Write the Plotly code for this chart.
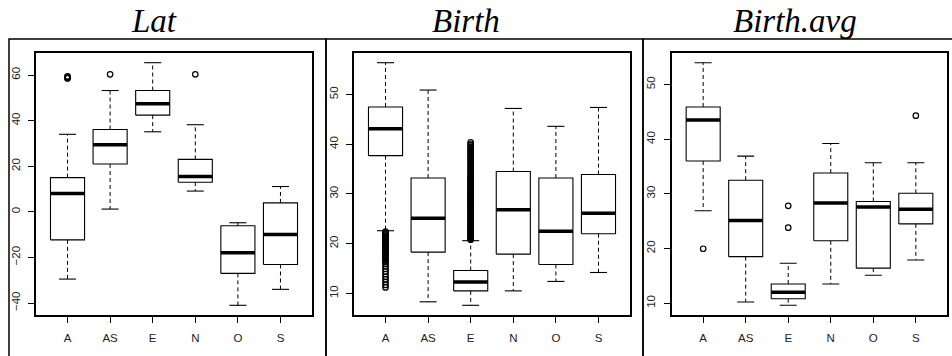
import plotly.graph_objects as go

categories = ["A", "AS", "E", "N", "O", "S"]

# Lat panel: five-number summaries per category
lat_low = [-29.5, 1.2, 35.1, 9.1, -41.0, -34.0]
lat_q1 = [-12.3, 21.0, 42.4, 13.0, -27.0, -23.1]
lat_med = [8.0, 29.4, 47.4, 15.5, -18.0, -9.9]
lat_q3 = [15.0, 36.1, 53.2, 23.0, -6.1, 3.9]
lat_high = [34.0, 53.2, 65.4, 38.2, -4.8, 11.1]
lat_out = [[58.5, 58.8, 59.1, 59.4], [60.3], [], [60.3], [], []]

# Birth panel
birth_low = [22.6, 8.3, 7.6, 10.5, 12.4, 14.2]
birth_q1 = [37.7, 18.3, 10.5, 17.9, 15.8, 22.0]
birth_med = [43.1, 25.1, 12.3, 26.8, 22.5, 26.1]
birth_q3 = [47.5, 33.2, 14.6, 34.5, 33.2, 33.9]
birth_high = [56.4, 50.9, 20.6, 47.2, 43.6, 47.4]
birth_out = [
    [11.2, 11.7, 12.3, 12.8, 13.3, 13.9, 14.4, 14.9, 15.4, 15.9, 16.3,
     16.6, 16.8, 17.0, 17.2, 17.4, 17.6, 17.8, 18.0, 18.2, 18.4, 18.6,
     18.8, 19.0, 19.2, 19.4, 19.6, 19.8, 20.0, 20.2, 20.4, 20.6, 20.8,
     21.0, 21.2, 21.4, 21.6, 21.8, 22.0, 22.2, 22.4],
    [],
    [20.8, 21.0, 21.2, 21.4, 21.6, 21.8, 22.0, 22.2, 22.4, 22.6, 22.8, 23.0,
     23.2, 23.4, 23.6, 23.8, 24.0, 24.2, 24.4, 24.6, 24.8, 25.0, 25.2, 25.4,
     25.6, 25.8, 26.0, 26.2, 26.4, 26.6, 26.8, 27.0, 27.2, 27.4, 27.6, 27.8,
     28.0, 28.2, 28.4, 28.6, 28.8, 29.0, 29.2, 29.4, 29.6, 29.8, 30.0, 30.2,
     30.4, 30.6, 30.8, 31.0, 31.2, 31.4, 31.6, 31.8, 32.0, 32.2, 32.4, 32.6,
     32.8, 33.0, 33.2, 33.4, 33.6, 33.8, 34.1, 34.4, 34.7, 35.0, 35.3, 35.6,
     35.9, 36.2, 36.5, 36.8, 37.1, 37.4, 37.7, 38.0, 38.3, 38.6, 38.9, 39.2,
     39.5, 39.8, 40.1, 40.4],
    [], [], [],
]

# Birth.avg panel
bavg_low = [26.9, 10.2, 9.6, 13.5, 15.1, 17.9]
bavg_q1 = [36.0, 18.5, 10.8, 21.4, 16.4, 24.5]
bavg_med = [43.5, 25.1, 12.0, 28.3, 27.6, 27.2]
bavg_q3 = [45.9, 32.5, 13.5, 33.8, 28.6, 30.1]
bavg_high = [54.0, 36.9, 17.3, 39.2, 35.7, 35.7]
bavg_out = [[19.95], [], [23.8, 27.8], [], [], [44.3]]

titles = ["Lat", "Birth", "Birth.avg"]
lat_ticks = [-40, -20, 0, 20, 40, 60]
birth_ticks = [10, 20, 30, 40, 50]
bavg_ticks = [10, 20, 30, 40, 50]

panels = [
    (lat_low, lat_q1, lat_med, lat_q3, lat_high, lat_out, lat_ticks),
    (birth_low, birth_q1, birth_med, birth_q3, birth_high, birth_out, birth_ticks),
    (bavg_low, bavg_q1, bavg_med, bavg_q3, bavg_high, bavg_out, bavg_ticks),
]

W, H = 952, 356
x_domains_px = [(36, 312), (354, 630), (671.7, 947.3)]
y_dom = [(H - 315) / H, (H - 53) / H]
frames_px = [(9, 326), (326, 643), (643, 960)]
title_cx = [154, 466, 795]
frame_top = 39

fig = go.Figure()
BW = 0.4    # half box width
SW = 0.2    # half staple width
n = len(categories)

for k, (lo, q1, med, q3, hi, outs, ticks) in enumerate(panels):
    xa = "x" if k == 0 else f"x{k+1}"
    ya = "y" if k == 0 else f"y{k+1}"
    pos = list(range(1, n + 1))

    wx, wy = [], []
    sx, sy = [], []
    bx, by = [], []
    mx, my = [], []
    ox, oy = [], []
    for i, p in enumerate(pos):
        wx += [p, p, None, p, p, None]
        wy += [q3[i], hi[i], None, q1[i], lo[i], None]
        sx += [p - SW, p + SW, None, p - SW, p + SW, None]
        sy += [hi[i], hi[i], None, lo[i], lo[i], None]
        bx += [p - BW, p + BW, p + BW, p - BW, p - BW, None]
        by += [q1[i], q1[i], q3[i], q3[i], q1[i], None]
        mx += [p - BW, p + BW, None]
        my += [med[i], med[i], None]
        for v in outs[i]:
            ox.append(p)
            oy.append(v)

    fig.add_trace(go.Scatter(x=wx, y=wy, mode="lines", xaxis=xa, yaxis=ya,
                             line=dict(color="black", width=1, dash="4px,3px"),
                             showlegend=False, hoverinfo="skip"))
    fig.add_trace(go.Scatter(x=sx, y=sy, mode="lines", xaxis=xa, yaxis=ya,
                             line=dict(color="black", width=1.1),
                             showlegend=False, hoverinfo="skip"))
    fig.add_trace(go.Scatter(x=bx, y=by, mode="lines", xaxis=xa, yaxis=ya,
                             line=dict(color="black", width=1.1),
                             showlegend=False, hoverinfo="skip"))
    fig.add_trace(go.Scatter(x=mx, y=my, mode="lines", xaxis=xa, yaxis=ya,
                             line=dict(color="black", width=3.5),
                             showlegend=False, hoverinfo="skip"))
    fig.add_trace(go.Scatter(x=ox, y=oy, mode="markers", xaxis=xa, yaxis=ya,
                             marker=dict(symbol="circle-open", size=5.5, color="black",
                                         line=dict(width=1.2, color="black")),
                             showlegend=False, hoverinfo="skip"))

    allv = lo + hi + [v for o in outs for v in o]
    vmin, vmax = min(allv), max(allv)
    pad = 0.04 * (vmax - vmin)
    xpad = 0.04 * n

    x0, x1 = x_domains_px[k]
    axis_common = dict(showline=True, mirror=True, linecolor="black", linewidth=1.5,
                       showgrid=False, zeroline=False, ticks="outside", ticklen=6,
                       tickcolor="black", tickwidth=1,
                       tickfont=dict(family="Liberation Sans, Arial", size=11.5, color="#222"))
    fig.layout[("xaxis" if k == 0 else f"xaxis{k+1}")] = dict(
        domain=[x0 / W, x1 / W], anchor=ya, range=[0.5 - xpad, n + 0.5 + xpad],
        tickvals=pos, ticktext=categories, ticklabelstandoff=5, **axis_common)
    fig.layout[("yaxis" if k == 0 else f"yaxis{k+1}")] = dict(
        domain=y_dom, anchor=xa, range=[vmin - pad, vmax + pad],
        tickvals=ticks, tickangle=-90, ticklabelstandoff=4, **axis_common)

    fx0, fx1 = frames_px[k]
    fig.add_shape(type="rect", xref="paper", yref="paper",
                  x0=fx0 / W, x1=fx1 / W, y0=-0.05, y1=(H - frame_top) / H,
                  line=dict(color="black", width=1.5), layer="above")
    fig.add_annotation(text=titles[k], xref="paper", yref="paper",
                       x=title_cx[k] / W, y=(H - 21) / H, xanchor="center", yanchor="middle",
                       showarrow=False,
                       font=dict(family="Liberation Serif, Times New Roman", size=33,
                                 color="black", style="italic"))

fig.update_layout(width=W, height=H, margin=dict(l=0, r=0, t=0, b=0),
                  paper_bgcolor="white", plot_bgcolor="white", showlegend=False)

fig.write_html("out.html")
